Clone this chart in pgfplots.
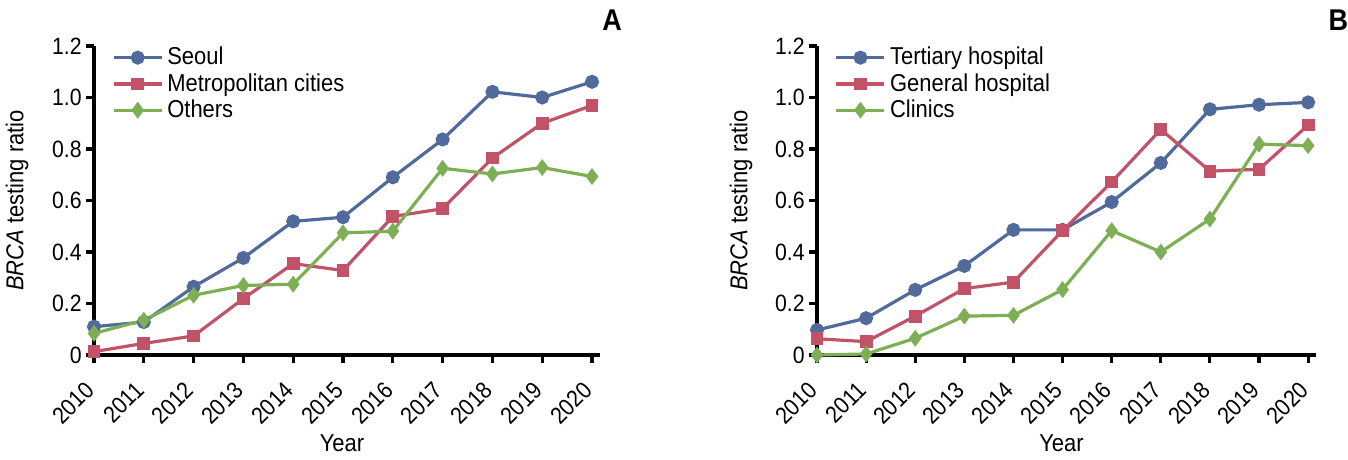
\documentclass[border=0pt]{standalone}
\usepackage{pgfplots}
\pgfplotsset{compat=1.18}
\usepackage{fontspec}
\setmainfont{Liberation Sans}[FakeStretch=0.9]
\definecolor{cblue}{RGB}{80,106,156}
\definecolor{cred}{RGB}{194,82,104}
\definecolor{cgreen}{RGB}{126,175,85}

\pgfplotsset{brca/.style={
  width=253pt, height=154.5pt, scale only axis,
  xmin=2010, xmax=2020.16, ymin=0, ymax=1.2,
  axis x line*=bottom, axis y line*=left,
  axis line style={line width=1.6pt, -},
  xtick={2010,...,2020}, ytick={0,0.2,...,1.2},
  yticklabels={0,0.2,0.4,0.6,0.8,1.0,1.2},
  xticklabel={\pgfmathprintnumber[1000 sep={}]{\tick}},
  tick align=outside, major tick length=4pt,
  tick style={line width=1.6pt, black},
  xticklabel style={xshift=-5pt, yshift=-7pt, rotate=45, anchor=north east, font=\fontsize{11.8}{13}\selectfont, inner sep=1pt},
  yticklabel style={font=\fontsize{11.8}{13}\selectfont, inner sep=2pt},
  /pgf/number format/assume math mode=true,
  xlabel={Year}, ylabel={\textit{BRCA} testing ratio},
  label style={font=\fontsize{12.2}{14}\selectfont},
  xlabel style={at={(rel axis cs:0.49,-0.235)}, anchor=north},
  ylabel style={at={(rel axis cs:-0.152,0.5)}, anchor=center},
  clip=false,
  legend cell align=left,
  legend style={draw=none, fill=none, at={(rel axis cs:0.035,1.01)}, anchor=north west,
    font=\fontsize{12.2}{12}\selectfont, row sep=-1.2pt, inner sep=0pt},
  legend image code/.code={\draw[mark repeat=2, mark phase=2] plot coordinates {(0pt,0pt) (12pt,0pt) (24pt,0pt)};},
  every axis plot/.append style={line width=1.6pt},
}}

\begin{document}
\begin{tikzpicture}
\path[use as bounding box] (-47pt,-52.5pt) rectangle (627pt,177.5pt);

\begin{axis}[brca]
\addplot[color=cblue, mark=*, mark size=2.7pt] coordinates {
(2010,0.110) (2011,0.128) (2012,0.265) (2013,0.377) (2014,0.519) (2015,0.535)
(2016,0.690) (2017,0.837) (2018,1.022) (2019,1.000) (2020,1.061)};
\addlegendentry{Seoul}
\addplot[color=cred, mark=square*, mark size=2.4pt] coordinates {
(2010,0.013) (2011,0.045) (2012,0.074) (2013,0.219) (2014,0.355) (2015,0.328)
(2016,0.538) (2017,0.568) (2018,0.765) (2019,0.900) (2020,0.969)};
\addlegendentry{Metropolitan cities}
\addplot[color=cgreen, mark=diamond*, mark size=2.9pt] coordinates {
(2010,0.084) (2011,0.135) (2012,0.232) (2013,0.270) (2014,0.275) (2015,0.474)
(2016,0.481) (2017,0.725) (2018,0.703) (2019,0.728) (2020,0.693)};
\addlegendentry{Others}
\node[font=\bfseries\fontsize{15}{17}\selectfont] at (rel axis cs:1.024,1.084) {A};
\end{axis}

\begin{axis}[brca, at={(361.5pt,0pt)}, width=249.5pt]
\addplot[color=cblue, mark=*, mark size=2.7pt] coordinates {
(2010,0.097) (2011,0.143) (2012,0.253) (2013,0.346) (2014,0.486) (2015,0.486)
(2016,0.594) (2017,0.746) (2018,0.954) (2019,0.972) (2020,0.981)};
\addlegendentry{Tertiary hospital}
\addplot[color=cred, mark=square*, mark size=2.4pt] coordinates {
(2010,0.063) (2011,0.052) (2012,0.151) (2013,0.258) (2014,0.283) (2015,0.483)
(2016,0.672) (2017,0.876) (2018,0.714) (2019,0.721) (2020,0.893)};
\addlegendentry{General hospital}
\addplot[color=cgreen, mark=diamond*, mark size=2.9pt] coordinates {
(2010,0.000) (2011,0.004) (2012,0.065) (2013,0.151) (2014,0.154) (2015,0.254)
(2016,0.483) (2017,0.400) (2018,0.528) (2019,0.819) (2020,0.813)};
\addlegendentry{Clinics}
\node[font=\bfseries\fontsize{15}{17}\selectfont] at (rel axis cs:1.045,1.084) {B};
\end{axis}
\end{tikzpicture}
\end{document}
